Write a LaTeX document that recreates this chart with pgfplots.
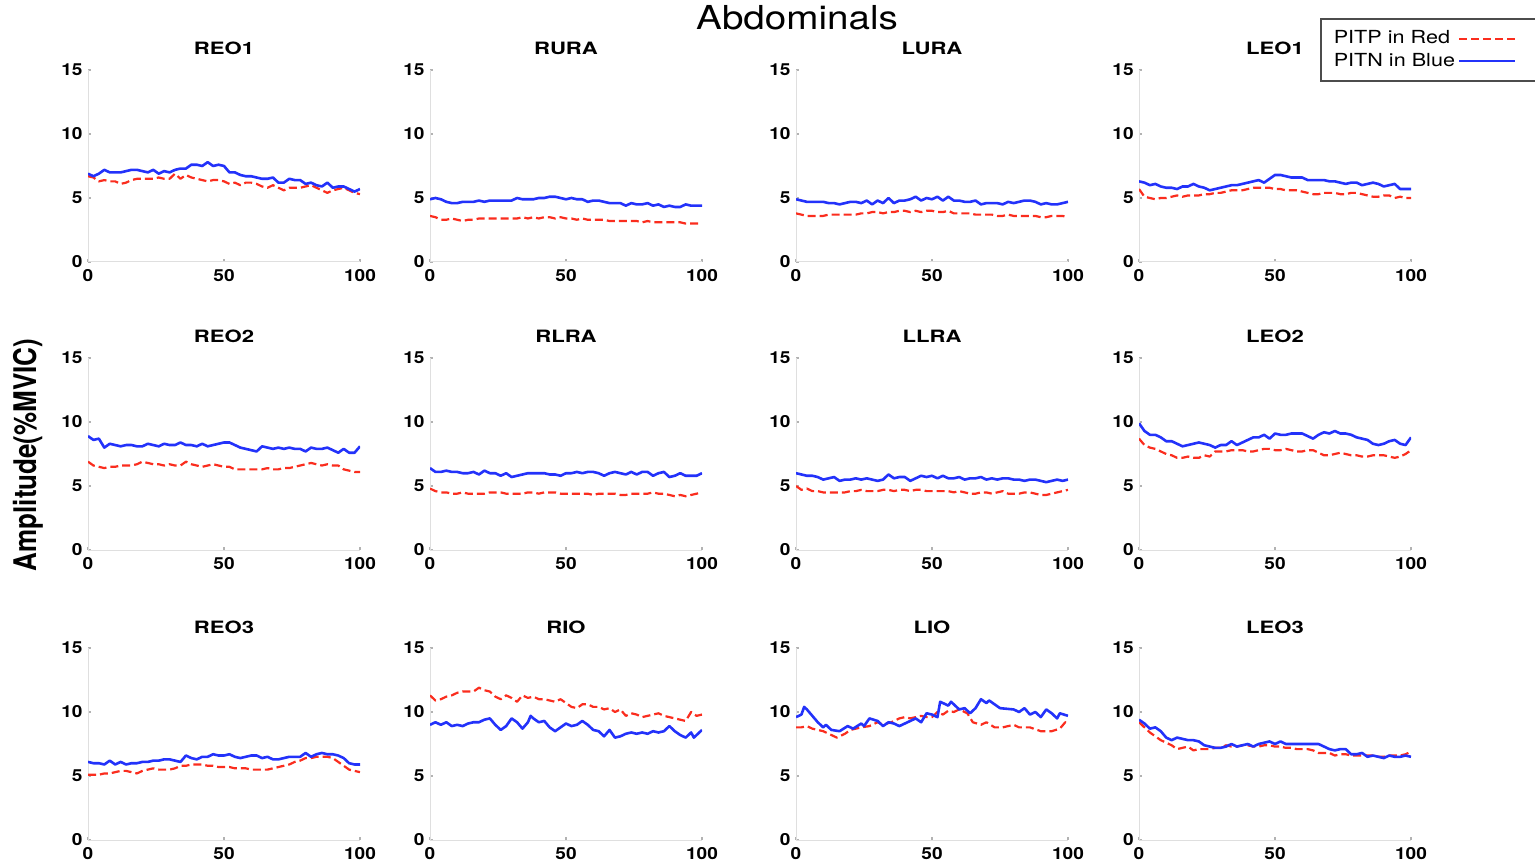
\documentclass[border=0pt]{standalone}
\usepackage{fontspec}
\setmainfont{TeX Gyre Heros}
\usepackage{graphicx}
\usepackage{pgfplots}
\usepackage{pgfplotstable}
\pgfplotsset{compat=1.18}
\definecolor{pitpred}{RGB}{250,45,30}
\definecolor{pitnblue}{RGB}{35,50,250}
\newcommand\wx[2][1.2]{\scalebox{#1}[1]{#2}}

\pgfplotsset{
  panel/.style={
    scale only axis, width=136pt, height=96pt,
    xmin=0, xmax=100, ymin=0, ymax=15,
    xtick={0,50,100}, ytick={0,5,10,15},
    axis x line*=bottom, axis y line*=left,
    axis line style={draw=gray!25, line width=0.5pt, -},
    tick align=inside, major tick length=1.5pt,
    tick style={draw=gray!60, line width=0.6pt},
    /pgf/number format/assume math mode=true,
    every tick label/.append style={font=\fontsize{8.3}{9}\selectfont\bfseries},
    xticklabel style={anchor=north, inner sep=0pt, yshift=-3.5pt},
    yticklabel style={anchor=east, inner sep=0pt, xshift=-2.5pt},
    xticklabel={\wx[1.15]{\pgfmathprintnumber{\tick}}},
    yticklabel={\wx[1.15]{\pgfmathprintnumber{\tick}}},
    title style={font=\fontsize{8.5}{9}\selectfont\bfseries, anchor=base, at={(0.5,1)}, yshift=1.5pt},
  },
  pitp/.style={color=pitpred, line width=1.1pt, dash pattern=on 4pt off 2pt, line join=round},
  pitn/.style={color=pitnblue, line width=1.3pt, line join=round},
}

% panel data: x, PITP (red), PITN (blue)
\pgfplotstableread[row sep=\\]{x r b\\
0 6.7 6.9\\ 2 6.6 6.7\\ 4 6.3 6.9\\ 6 6.4 7.2\\ 8 6.3 7.0\\ 10 6.3 7.0\\ 12 6.1 7.0\\ 14 6.2 7.1\\ 16 6.4 7.2\\ 18 6.5 7.2\\
20 6.5 7.1\\ 22 6.5 7.0\\ 24 6.5 7.2\\ 26 6.6 6.9\\ 28 6.5 7.1\\ 30 6.5 7.0\\ 32 6.9 7.2\\ 34 6.5 7.3\\ 36 6.8 7.3\\ 38 6.6 7.6\\
40 6.5 7.6\\ 42 6.4 7.5\\ 44 6.3 7.8\\ 46 6.4 7.5\\ 48 6.4 7.6\\ 50 6.3 7.5\\ 52 6.1 7.0\\ 54 6.2 7.0\\ 56 6.0 6.8\\ 58 6.2 6.7\\
60 6.2 6.7\\ 62 6.1 6.6\\ 64 5.9 6.5\\ 66 5.8 6.5\\ 68 6.0 6.6\\ 70 5.8 6.2\\ 72 5.6 6.2\\ 74 5.8 6.5\\ 76 5.8 6.4\\ 78 5.8 6.4\\
80 5.9 6.1\\ 82 6.0 6.2\\ 84 5.8 6.0\\ 86 5.6 5.9\\ 88 5.4 6.2\\ 90 5.6 5.8\\ 92 5.7 5.9\\ 94 5.8 5.9\\ 96 5.6 5.7\\ 98 5.4 5.5\\ 100 5.3 5.7\\
}\reoone
\pgfplotstableread[row sep=\\]{x r b\\
0 3.6 4.9\\ 2 3.5 5.0\\ 4 3.3 4.9\\ 6 3.3 4.7\\ 8 3.4 4.6\\ 10 3.3 4.6\\ 12 3.2 4.7\\ 14 3.3 4.7\\ 16 3.3 4.7\\ 18 3.4 4.8\\
20 3.4 4.7\\ 22 3.4 4.8\\ 24 3.4 4.8\\ 26 3.4 4.8\\ 28 3.4 4.8\\ 30 3.4 4.8\\ 32 3.4 5.0\\ 34 3.5 4.9\\ 36 3.4 4.9\\ 38 3.5 4.9\\
40 3.4 5.0\\ 42 3.5 5.0\\ 44 3.5 5.1\\ 46 3.4 5.1\\ 48 3.5 5.0\\ 50 3.4 4.9\\ 52 3.4 5.0\\ 54 3.3 4.9\\ 56 3.4 4.9\\ 58 3.3 4.7\\
60 3.3 4.8\\ 62 3.3 4.8\\ 64 3.3 4.7\\ 66 3.2 4.6\\ 68 3.2 4.6\\ 70 3.2 4.6\\ 72 3.2 4.4\\ 74 3.2 4.6\\ 76 3.2 4.5\\ 78 3.1 4.5\\
80 3.2 4.6\\ 82 3.1 4.4\\ 84 3.1 4.5\\ 86 3.1 4.3\\ 88 3.1 4.4\\ 90 3.1 4.3\\ 92 3.1 4.3\\ 94 3.0 4.5\\ 96 3.0 4.4\\ 98 3.0 4.4\\ 100 3.0 4.4\\
}\rura
\pgfplotstableread[row sep=\\]{x r b\\
0 3.8 4.9\\ 2 3.7 4.8\\ 4 3.6 4.7\\ 6 3.6 4.7\\ 8 3.6 4.7\\ 10 3.6 4.7\\ 12 3.7 4.6\\ 14 3.7 4.6\\ 16 3.7 4.5\\ 18 3.7 4.6\\
20 3.7 4.7\\ 22 3.7 4.7\\ 24 3.8 4.6\\ 26 3.8 4.8\\ 28 3.9 4.5\\ 30 3.9 4.8\\ 32 3.8 4.6\\ 34 3.9 5.0\\ 36 3.9 4.6\\ 38 4.0 4.8\\
40 4.0 4.8\\ 42 3.9 4.9\\ 44 4.0 5.1\\ 46 3.9 4.8\\ 48 4.0 5.0\\ 50 4.0 4.9\\ 52 3.9 5.1\\ 54 3.9 4.8\\ 56 4.0 5.1\\ 58 3.8 4.8\\
60 3.8 4.8\\ 62 3.8 4.7\\ 64 3.8 4.7\\ 66 3.7 4.8\\ 68 3.7 4.5\\ 70 3.7 4.6\\ 72 3.7 4.6\\ 74 3.6 4.6\\ 76 3.6 4.5\\ 78 3.7 4.7\\
80 3.6 4.6\\ 82 3.6 4.7\\ 84 3.6 4.8\\ 86 3.6 4.8\\ 88 3.6 4.7\\ 90 3.5 4.5\\ 92 3.5 4.6\\ 94 3.6 4.5\\ 96 3.6 4.5\\ 98 3.6 4.6\\ 100 3.5 4.7\\
}\lura
\pgfplotstableread[row sep=\\]{x r b\\
0 5.7 6.3\\ 2 5.1 6.2\\ 4 5.0 6.0\\ 6 4.9 6.1\\ 8 5.0 5.9\\ 10 5.0 5.8\\ 12 5.1 5.8\\ 14 5.2 5.7\\ 16 5.1 5.9\\ 18 5.2 5.9\\
20 5.2 6.1\\ 22 5.2 5.9\\ 24 5.3 5.8\\ 26 5.3 5.6\\ 28 5.4 5.7\\ 30 5.4 5.8\\ 32 5.5 5.9\\ 34 5.6 6.0\\ 36 5.6 6.0\\ 38 5.6 6.1\\
40 5.7 6.2\\ 42 5.8 6.3\\ 44 5.8 6.4\\ 46 5.8 6.2\\ 48 5.8 6.5\\ 50 5.7 6.8\\ 52 5.7 6.8\\ 54 5.6 6.7\\ 56 5.6 6.6\\ 58 5.6 6.6\\
60 5.5 6.6\\ 62 5.4 6.4\\ 64 5.3 6.4\\ 66 5.3 6.4\\ 68 5.4 6.4\\ 70 5.4 6.3\\ 72 5.4 6.3\\ 74 5.3 6.2\\ 76 5.3 6.1\\ 78 5.4 6.2\\
80 5.4 6.2\\ 82 5.3 6.0\\ 84 5.2 6.1\\ 86 5.1 6.2\\ 88 5.1 6.1\\ 90 5.2 5.9\\ 92 5.2 6.0\\ 94 5.0 6.1\\ 96 5.1 5.7\\ 98 5.0 5.7\\ 100 5.0 5.7\\
}\leoone
\pgfplotstableread[row sep=\\]{x r b\\
0 6.9 8.9\\ 2 6.6 8.6\\ 4 6.5 8.7\\ 6 6.4 8.0\\ 8 6.5 8.3\\ 10 6.5 8.2\\ 12 6.6 8.1\\ 14 6.6 8.2\\ 16 6.6 8.2\\ 18 6.7 8.1\\
20 6.9 8.1\\ 22 6.8 8.3\\ 24 6.7 8.2\\ 26 6.7 8.1\\ 28 6.6 8.3\\ 30 6.7 8.2\\ 32 6.6 8.2\\ 34 6.6 8.4\\ 36 6.9 8.2\\ 38 6.7 8.2\\
40 6.6 8.1\\ 42 6.5 8.3\\ 44 6.6 8.1\\ 46 6.7 8.2\\ 48 6.6 8.3\\ 50 6.5 8.4\\ 52 6.5 8.4\\ 54 6.3 8.2\\ 56 6.3 8.0\\ 58 6.3 7.9\\
60 6.3 7.8\\ 62 6.3 7.7\\ 64 6.3 8.1\\ 66 6.4 8.0\\ 68 6.3 7.9\\ 70 6.3 8.0\\ 72 6.4 7.9\\ 74 6.4 8.0\\ 76 6.5 7.9\\ 78 6.6 7.9\\
80 6.7 7.7\\ 82 6.8 8.0\\ 84 6.7 7.9\\ 86 6.6 7.9\\ 88 6.7 8.0\\ 90 6.6 7.8\\ 92 6.6 7.6\\ 94 6.3 7.9\\ 96 6.2 7.6\\ 98 6.1 7.6\\ 100 6.1 8.1\\
}\reotwo
\pgfplotstableread[row sep=\\]{x r b\\
0 4.8 6.4\\ 2 4.6 6.1\\ 4 4.5 6.1\\ 6 4.5 6.2\\ 8 4.4 6.1\\ 10 4.4 6.1\\ 12 4.5 6.0\\ 14 4.4 6.0\\ 16 4.4 6.1\\ 18 4.4 5.9\\
20 4.4 6.2\\ 22 4.5 6.0\\ 24 4.5 6.0\\ 26 4.5 5.8\\ 28 4.4 6.0\\ 30 4.4 5.7\\ 32 4.4 5.8\\ 34 4.4 5.9\\ 36 4.5 6.0\\ 38 4.5 6.0\\
40 4.4 6.0\\ 42 4.5 6.0\\ 44 4.5 5.9\\ 46 4.5 5.9\\ 48 4.4 5.8\\ 50 4.4 6.0\\ 52 4.4 6.0\\ 54 4.4 6.1\\ 56 4.4 6.0\\ 58 4.4 6.1\\
60 4.3 6.1\\ 62 4.4 6.0\\ 64 4.4 5.8\\ 66 4.4 6.0\\ 68 4.4 6.1\\ 70 4.3 6.0\\ 72 4.3 5.9\\ 74 4.4 6.1\\ 76 4.4 5.9\\ 78 4.4 6.1\\
80 4.4 6.1\\ 82 4.5 5.8\\ 84 4.4 6.0\\ 86 4.4 6.1\\ 88 4.3 5.7\\ 90 4.2 5.8\\ 92 4.3 6.0\\ 94 4.2 5.8\\ 96 4.3 5.8\\ 98 4.4 5.8\\ 100 4.5 6.0\\
}\rlra
\pgfplotstableread[row sep=\\]{x r b\\
0 5.0 6.0\\ 2 4.7 5.9\\ 4 4.8 5.8\\ 6 4.6 5.8\\ 8 4.6 5.7\\ 10 4.5 5.5\\ 12 4.5 5.6\\ 14 4.5 5.7\\ 16 4.5 5.4\\ 18 4.5 5.5\\
20 4.6 5.5\\ 22 4.6 5.6\\ 24 4.7 5.5\\ 26 4.6 5.6\\ 28 4.6 5.5\\ 30 4.6 5.4\\ 32 4.7 5.5\\ 34 4.7 5.9\\ 36 4.6 5.6\\ 38 4.7 5.7\\
40 4.7 5.7\\ 42 4.6 5.4\\ 44 4.7 5.6\\ 46 4.7 5.8\\ 48 4.6 5.7\\ 50 4.6 5.8\\ 52 4.6 5.6\\ 54 4.6 5.8\\ 56 4.6 5.6\\ 58 4.5 5.6\\
60 4.6 5.7\\ 62 4.5 5.5\\ 64 4.4 5.6\\ 66 4.4 5.6\\ 68 4.5 5.7\\ 70 4.5 5.5\\ 72 4.4 5.6\\ 74 4.5 5.5\\ 76 4.6 5.6\\ 78 4.4 5.6\\
80 4.4 5.5\\ 82 4.4 5.5\\ 84 4.5 5.4\\ 86 4.5 5.5\\ 88 4.4 5.5\\ 90 4.3 5.4\\ 92 4.3 5.3\\ 94 4.4 5.4\\ 96 4.5 5.5\\ 98 4.6 5.4\\ 100 4.7 5.5\\
}\llra
\pgfplotstableread[row sep=\\]{x r b\\
0 8.7 9.9\\ 2 8.2 9.3\\ 4 8.0 9.0\\ 6 7.9 9.0\\ 8 7.7 8.8\\ 10 7.5 8.5\\ 12 7.4 8.5\\ 14 7.2 8.3\\ 16 7.2 8.1\\ 18 7.3 8.2\\
20 7.2 8.3\\ 22 7.2 8.4\\ 24 7.4 8.3\\ 26 7.3 8.2\\ 28 7.7 8.0\\ 30 7.7 8.2\\ 32 7.7 8.2\\ 34 7.8 8.5\\ 36 7.8 8.2\\ 38 7.8 8.4\\
40 7.7 8.6\\ 42 7.7 8.8\\ 44 7.8 8.8\\ 46 7.9 9.0\\ 48 7.9 8.7\\ 50 7.8 9.1\\ 52 7.8 9.0\\ 54 7.9 9.0\\ 56 7.8 9.1\\ 58 7.7 9.1\\
60 7.7 9.1\\ 62 7.8 8.9\\ 64 7.8 8.7\\ 66 7.6 9.0\\ 68 7.4 9.2\\ 70 7.4 9.1\\ 72 7.5 9.3\\ 74 7.6 9.1\\ 76 7.5 9.1\\ 78 7.4 9.0\\
80 7.4 8.8\\ 82 7.3 8.7\\ 84 7.3 8.6\\ 86 7.4 8.3\\ 88 7.4 8.2\\ 90 7.4 8.3\\ 92 7.3 8.5\\ 94 7.2 8.6\\ 96 7.3 8.3\\ 98 7.5 8.2\\ 100 7.8 8.8\\
}\leotwo
\pgfplotstableread[row sep=\\]{x r b\\
0 5.1 6.1\\ 2 5.1 6.0\\ 4 5.1 6.0\\ 6 5.2 5.9\\ 8 5.2 6.2\\ 10 5.3 5.9\\ 12 5.4 6.1\\ 14 5.4 5.9\\ 16 5.3 6.0\\ 18 5.2 6.0\\
20 5.4 6.1\\ 22 5.5 6.1\\ 24 5.6 6.2\\ 26 5.5 6.2\\ 28 5.5 6.3\\ 30 5.5 6.3\\ 32 5.6 6.2\\ 34 5.8 6.1\\ 36 5.8 6.6\\ 38 5.9 6.4\\
40 5.9 6.3\\ 42 5.9 6.5\\ 44 5.8 6.5\\ 46 5.8 6.7\\ 48 5.7 6.6\\ 50 5.7 6.6\\ 52 5.7 6.7\\ 54 5.6 6.5\\ 56 5.6 6.4\\ 58 5.6 6.5\\
60 5.5 6.6\\ 62 5.5 6.6\\ 64 5.5 6.4\\ 66 5.5 6.5\\ 68 5.6 6.3\\ 70 5.7 6.3\\ 72 5.8 6.4\\ 74 5.9 6.5\\ 76 6.1 6.5\\ 78 6.2 6.5\\
80 6.4 6.8\\ 82 6.4 6.5\\ 84 6.5 6.7\\ 86 6.5 6.8\\ 88 6.5 6.7\\ 90 6.4 6.7\\ 92 6.1 6.6\\ 94 5.8 6.4\\ 96 5.5 6.0\\ 98 5.4 5.9\\ 100 5.3 5.9\\
}\reothree
\pgfplotstableread[row sep=\\]{x r b\\
0 9.2 9.4\\ 2 8.8 9.1\\ 4 8.4 8.7\\ 6 8.1 8.8\\ 8 7.8 8.5\\ 10 7.6 8.0\\ 12 7.4 7.8\\ 14 7.1 8.0\\ 16 7.2 7.9\\ 18 7.3 7.8\\
20 7.0 7.8\\ 22 7.1 7.7\\ 24 7.1 7.4\\ 26 7.1 7.3\\ 28 7.2 7.2\\ 30 7.2 7.2\\ 32 7.4 7.3\\ 34 7.3 7.5\\ 36 7.3 7.3\\ 38 7.4 7.4\\
40 7.4 7.5\\ 42 7.3 7.3\\ 44 7.3 7.5\\ 46 7.4 7.6\\ 48 7.4 7.7\\ 50 7.3 7.5\\ 52 7.3 7.7\\ 54 7.2 7.5\\ 56 7.2 7.5\\ 58 7.1 7.5\\
60 7.1 7.5\\ 62 7.1 7.5\\ 64 7.0 7.5\\ 66 6.8 7.5\\ 68 6.8 7.3\\ 70 6.8 7.1\\ 72 6.6 7.0\\ 74 6.7 7.1\\ 76 6.7 7.1\\ 78 6.6 6.7\\
80 6.6 6.7\\ 82 6.6 6.8\\ 84 6.6 6.5\\ 86 6.6 6.6\\ 88 6.5 6.5\\ 90 6.5 6.4\\ 92 6.6 6.6\\ 94 6.6 6.5\\ 96 6.6 6.5\\ 98 6.7 6.6\\ 100 6.9 6.5\\
}\leothree
\pgfplotstableread[row sep=\\]{x y\\
0 11.3\\ 2 10.9\\ 4 11.0\\ 6 11.2\\ 8 11.3\\ 10 11.5\\ 12 11.6\\ 14 11.6\\ 16 11.6\\ 18 11.9\\ 20 11.7\\ 22 11.6\\ 24 11.2\\
26 11.0\\ 28 11.3\\ 30 11.1\\ 32 10.8\\ 34 11.3\\ 36 11.1\\ 38 11.2\\ 40 11.0\\ 42 11.0\\ 44 10.9\\ 46 10.8\\ 48 11.0\\ 50 10.7\\
52 10.4\\ 54 10.3\\ 56 10.6\\ 58 10.6\\ 60 10.4\\ 62 10.4\\ 64 10.2\\ 66 10.3\\ 68 10.0\\ 70 10.2\\ 72 9.7\\ 74 9.9\\ 76 9.8\\
78 9.6\\ 80 9.7\\ 82 9.8\\ 84 9.9\\ 86 9.7\\ 88 9.6\\ 90 9.5\\ 92 9.4\\ 94 9.3\\ 96 10.0\\ 98 9.7\\ 100 9.8\\
}\riored
\pgfplotstableread[row sep=\\]{x y\\
0 9.0\\ 2 9.2\\ 4 9.0\\ 6 9.2\\ 8 8.9\\ 10 9.0\\ 12 8.9\\ 14 9.1\\ 16 9.2\\ 18 9.2\\ 20 9.4\\ 22 9.5\\ 24 9.0\\ 26 8.6\\
28 8.9\\ 30 9.5\\ 32 9.2\\ 34 8.7\\ 36 9.2\\ 37 9.7\\ 38 9.5\\ 40 9.2\\ 42 9.3\\ 44 8.8\\ 46 8.5\\ 48 8.8\\ 50 9.1\\ 52 8.9\\
54 9.0\\ 56 9.3\\ 58 9.0\\ 60 8.6\\ 62 8.5\\ 64 8.1\\ 66 8.6\\ 68 8.0\\ 70 8.1\\ 72 8.3\\ 74 8.4\\ 76 8.3\\ 78 8.4\\ 80 8.3\\
82 8.5\\ 84 8.4\\ 86 8.5\\ 88 8.9\\ 90 8.5\\ 92 8.2\\ 94 8.0\\ 96 8.4\\ 97 8.0\\ 98 8.2\\ 100 8.6\\
}\rioblue
\pgfplotstableread[row sep=\\]{x y\\
0 8.8\\ 2 8.8\\ 4 8.9\\ 6 8.7\\ 8 8.6\\ 10 8.5\\ 13 8.2\\ 15 8.0\\ 18 8.3\\ 20 8.6\\ 24 8.8\\ 27 8.9\\ 30 9.2\\ 32 9.0\\
35 9.2\\ 38 9.5\\ 40 9.6\\ 42 9.5\\ 46 9.7\\ 48 9.6\\ 50 9.6\\ 52 10.0\\ 54 9.8\\ 56 10.1\\ 58 10.0\\ 60 10.2\\ 63 9.9\\
65 9.2\\ 68 9.0\\ 70 9.2\\ 73 8.8\\ 76 8.8\\ 80 9.0\\ 82 8.8\\ 86 8.8\\ 90 8.5\\ 94 8.5\\ 97 8.7\\ 99 9.2\\ 100 9.0\\
}\liored
\pgfplotstableread[row sep=\\]{x y\\
0 9.6\\ 2 9.8\\ 3 10.4\\ 4 10.2\\ 6 9.7\\ 8 9.2\\ 10 8.8\\ 11 9.0\\ 13 8.6\\ 16 8.5\\ 19 8.9\\ 21 8.7\\ 24 9.1\\ 25 8.9\\
27 9.5\\ 30 9.3\\ 32 8.9\\ 34 9.2\\ 36 9.1\\ 38 8.9\\ 40 9.1\\ 42 9.3\\ 44 9.5\\ 46 9.2\\ 48 9.9\\ 50 9.8\\ 52 9.6\\ 53 10.8\\
56 10.5\\ 57 10.8\\ 60 10.2\\ 62 10.3\\ 64 9.9\\ 66 10.3\\ 68 11.0\\ 70 10.7\\ 71 10.9\\ 75 10.3\\ 80 10.2\\ 82 10.0\\ 84 10.3\\
86 9.8\\ 88 10.0\\ 90 9.6\\ 92 10.2\\ 94 9.9\\ 96 9.5\\ 97 9.9\\ 100 9.7\\
}\lioblue

\begin{document}
\begin{tikzpicture}
\useasboundingbox (0,0) rectangle (767.5pt,-432.5pt);

\node at (398.5pt,-9pt) {\fontsize{16.5}{18}\selectfont\wx[1.17]{Abdominals}};
\node[rotate=90] at (14pt,-227.5pt) {\fontsize{13}{15}\selectfont\bfseries\scalebox{1}[1.2]{Amplitude(\%MVIC)}};

% row 1
\begin{axis}[panel, at={(44pt,-131pt)}, anchor=south west, title={\wx[1.3]{REO1}}]
\addplot[pitp] table[x=x, y=r] {\reoone};
\addplot[pitn] table[x=x, y=b] {\reoone};
\end{axis}
\begin{axis}[panel, at={(215pt,-131pt)}, anchor=south west, title={\wx[1.3]{RURA}}]
\addplot[pitp] table[x=x, y=r] {\rura};
\addplot[pitn] table[x=x, y=b] {\rura};
\end{axis}
\begin{axis}[panel, at={(398pt,-131pt)}, anchor=south west, title={\wx[1.3]{LURA}}]
\addplot[pitp] table[x=x, y=r] {\lura};
\addplot[pitn] table[x=x, y=b] {\lura};
\end{axis}
\begin{axis}[panel, at={(569.5pt,-131pt)}, anchor=south west, title={\wx[1.3]{LEO1}},
  legend plot pos=right, legend cell align=left,
  legend image code/.code={\draw[#1] (0pt,0pt) -- (28pt,0pt); \path[draw=none] (28pt,0pt) -- (42pt,0pt);},
  legend style={at={(0.665,1.271)}, anchor=north west, draw=black!70, line width=0.9pt,
    font=\fontsize{9}{10}\selectfont, inner xsep=5pt, inner ysep=4.5pt,
    nodes={inner sep=1.5pt}, /tikz/column sep=0pt}]
\addplot[pitp] table[x=x, y=r] {\leoone};
\addlegendentry{\wx{PITP in Red}}
\addplot[pitn] table[x=x, y=b] {\leoone};
\addlegendentry{\wx{PITN in Blue}}
\end{axis}

% row 2
\begin{axis}[panel, at={(44pt,-275pt)}, anchor=south west, title={\wx[1.3]{REO2}}]
\addplot[pitp] table[x=x, y=r] {\reotwo};
\addplot[pitn] table[x=x, y=b] {\reotwo};
\end{axis}
\begin{axis}[panel, at={(215pt,-275pt)}, anchor=south west, title={\wx[1.3]{RLRA}}]
\addplot[pitp] table[x=x, y=r] {\rlra};
\addplot[pitn] table[x=x, y=b] {\rlra};
\end{axis}
\begin{axis}[panel, at={(398pt,-275pt)}, anchor=south west, title={\wx[1.3]{LLRA}}]
\addplot[pitp] table[x=x, y=r] {\llra};
\addplot[pitn] table[x=x, y=b] {\llra};
\end{axis}
\begin{axis}[panel, at={(569.5pt,-275pt)}, anchor=south west, title={\wx[1.3]{LEO2}}]
\addplot[pitp] table[x=x, y=r] {\leotwo};
\addplot[pitn] table[x=x, y=b] {\leotwo};
\end{axis}

% row 3
\begin{axis}[panel, at={(44pt,-420pt)}, anchor=south west, title={\wx[1.3]{REO3}}]
\addplot[pitp] table[x=x, y=r] {\reothree};
\addplot[pitn] table[x=x, y=b] {\reothree};
\end{axis}
\begin{axis}[panel, at={(215pt,-420pt)}, anchor=south west, title={\wx[1.3]{RIO}}]
\addplot[pitp] table[x=x, y=y] {\riored};
\addplot[pitn] table[x=x, y=y] {\rioblue};
\end{axis}
\begin{axis}[panel, at={(398pt,-420pt)}, anchor=south west, title={\wx[1.3]{LIO}}]
\addplot[pitp] table[x=x, y=y] {\liored};
\addplot[pitn] table[x=x, y=y] {\lioblue};
\end{axis}
\begin{axis}[panel, at={(569.5pt,-420pt)}, anchor=south west, title={\wx[1.3]{LEO3}}]
\addplot[pitp] table[x=x, y=r] {\leothree};
\addplot[pitn] table[x=x, y=b] {\leothree};
\end{axis}
\end{tikzpicture}
\end{document}
